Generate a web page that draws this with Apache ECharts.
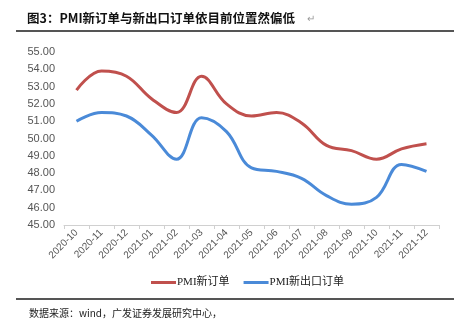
<!DOCTYPE html>
<html><head><meta charset="utf-8">
<script src="https://cdn.jsdelivr.net/npm/echarts@6/dist/echarts.min.js"></script>
<style>html,body{margin:0;padding:0;background:#fff;}#c{width:454px;height:325px;}</style>
</head><body><div id="c"></div>
<script>
var categories = ['2020-10','2020-11','2020-12','2021-01','2021-02','2021-03','2021-04','2021-05','2021-06','2021-07','2021-08','2021-09','2021-10','2021-11','2021-12'];
var newOrders = [52.8,53.9,53.6,52.3,51.5,53.6,52.0,51.3,51.5,50.9,49.6,49.3,48.8,49.4,49.7];
var newExportOrders = [51.0,51.5,51.3,50.2,48.8,51.2,50.4,48.3,48.1,47.7,46.7,46.2,46.6,48.5,48.1];
var seriesNames = ['PMI新订单','PMI新出口订单'];
var titleText = '图3：PMI新订单与新出口订单依目前位置然偏低';
var sourceText = '数据来源：wind，广发证券发展研究中心，';

var chart = echarts.init(document.getElementById('c'));
chart.setOption({
  animation:false,
  backgroundColor:'#fff',
  title:[{text:titleText,left:22,top:7,textStyle:{fontSize:12.5,fontWeight:'bold',color:'#111',fontFamily:'Noto Sans CJK SC'}},
         {text:'↵',left:302,top:9,textStyle:{fontSize:10,fontWeight:'normal',color:'#999'}},
         {text:sourceText,left:24,top:303,textStyle:{fontSize:10,fontWeight:'normal',color:'#222',fontFamily:'Noto Sans CJK SC'}}],
  graphic:[
    {type:'line',shape:{x1:16,y1:31,x2:454,y2:31},style:{stroke:'#555',lineWidth:2}},
    {type:'line',shape:{x1:16,y1:299,x2:454,y2:299},style:{stroke:'#555',lineWidth:2}}
  ],
  legend:{data:seriesNames,left:146,top:272,itemWidth:25,itemHeight:3,itemGap:14,icon:'rect',
    textStyle:{fontSize:11,color:'#222',fontFamily:'Liberation Serif, Noto Sans CJK SC',padding:[0,0,0,-4]}},
  grid:{left:64,right:15,top:52,bottom:100},
  xAxis:{type:'category',data:categories,boundaryGap:true,
    axisLine:{lineStyle:{color:'#d0d0d0'}},
    axisTick:{show:true,length:4,lineStyle:{color:'#d0d0d0'}},
    axisLabel:{rotate:45,fontSize:10,color:'#555',fontFamily:'Liberation Sans',margin:6,interval:0}},
  yAxis:{type:'value',min:45,max:55,interval:1,
    axisLine:{show:false},axisTick:{show:false},splitLine:{show:false},
    axisLabel:{fontSize:11,color:'#555',fontFamily:'Liberation Sans',margin:9,formatter:function(v){return v.toFixed(2);}}},
  series:[
    {name:seriesNames[0],type:'line',data:newOrders,smooth:0.4,symbol:'none',lineStyle:{width:3,color:'#c0504d'},itemStyle:{color:'#c0504d'}},
    {name:seriesNames[1],type:'line',data:newExportOrders,smooth:0.4,symbol:'none',lineStyle:{width:3,color:'#4a8ad8'},itemStyle:{color:'#4a8ad8'}}
  ]
});
</script></body></html>
